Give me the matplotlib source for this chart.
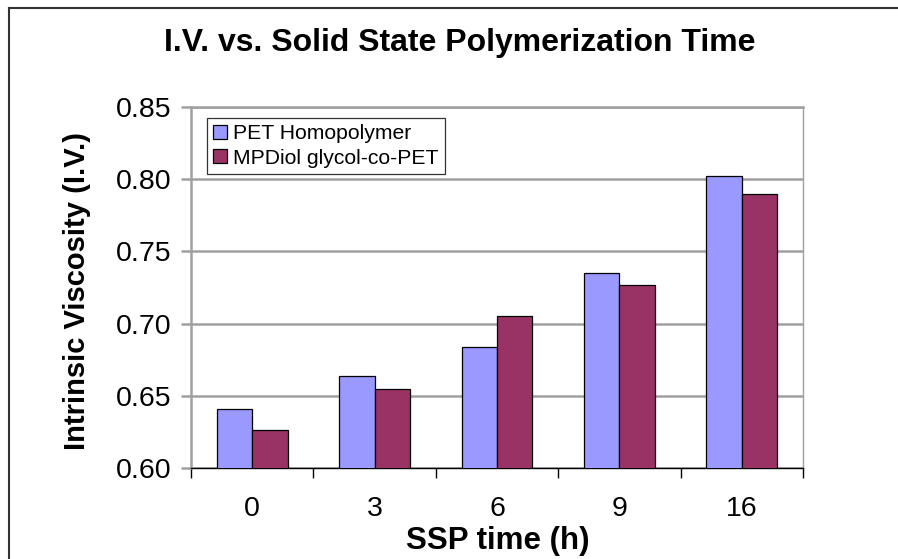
import matplotlib
matplotlib.use("Agg")
import matplotlib.pyplot as plt
from matplotlib.lines import Line2D
import numpy as np

plt.rcParams['font.family'] = ['Liberation Sans', 'DejaVu Sans']

# data
ssp_time = ['0', '3', '6', '9', '16']
pet_homo = [0.641, 0.664, 0.684, 0.735, 0.802]
mpdiol = [0.626, 0.655, 0.705, 0.727, 0.790]
series_names = ['PET Homopolymer', 'MPDiol glycol-co-PET']
y_ticks = [0.60, 0.65, 0.70, 0.75, 0.80, 0.85]

fig = plt.figure(figsize=(8.98, 5.59), dpi=100)
ax = fig.add_axes([191/898, 1 - 468/559, (803 - 191)/898, (468 - 107)/559])

x = np.arange(len(ssp_time))
w = 0.29
ax.bar(x - w/2, pet_homo, w, color='#9999FF', edgecolor='black', linewidth=0.9,
       label=series_names[0], zorder=3)
ax.bar(x + w/2, mpdiol, w, color='#993366', edgecolor='black', linewidth=0.9,
       label=series_names[1], zorder=3)

ax.set_ylim(0.60, 0.85)
ax.set_xlim(-0.5, len(ssp_time) - 0.5)
ax.set_yticks(y_ticks)
ax.set_yticklabels([f'{v:.2f}' for v in y_ticks], fontsize=20.5)
ax.yaxis.grid(True, color='#A0A0A0', linewidth=1.8, zorder=0)

# category labels centred, ticks on the category boundaries
ax.set_xticks(x)
ax.set_xticklabels(ssp_time, fontsize=20.5)
ax.tick_params(axis='x', length=0, pad=20)
ax.set_xticks(np.arange(-0.5, len(ssp_time)), minor=True)
ax.tick_params(axis='x', which='minor', length=7, width=1, color='black', direction='out')
ax.tick_params(axis='y', length=7, width=1.8, color='#A0A0A0', direction='out', pad=7)

ax.spines['left'].set_color('#A0A0A0')
ax.spines['left'].set_linewidth(1.8)
ax.spines['right'].set_color('#A0A0A0')
ax.spines['right'].set_linewidth(1)
ax.spines['top'].set_color('#A0A0A0')
ax.spines['top'].set_linewidth(1.8)
ax.spines['bottom'].set_color('black')
ax.spines['bottom'].set_linewidth(1)

ax.set_ylabel('Intrinsic Viscosity (I.V.)', fontsize=21, fontweight='bold')
ax.yaxis.set_label_coords(-(191 - 91)/612, 0.49)
ax.set_xlabel('SSP time (h)', fontsize=22.5, fontweight='bold')
ax.xaxis.set_label_coords((498 - 191)/612, -(526 - 468)/361)

leg = ax.legend(loc='upper left', bbox_to_anchor=(16/612, 1 - 11/361), fontsize=15.2,
                frameon=True, fancybox=False, borderpad=0.3, handlelength=0.65,
                handleheight=0.65, handletextpad=0.3, labelspacing=0.25, borderaxespad=0)
leg.get_frame().set_edgecolor('black')
leg.get_frame().set_linewidth(0.9)

fig.text(460/898, 1 - 43/559, 'I.V. vs. Solid State Polymerization Time',
         ha='center', va='center', fontsize=23, fontweight='bold')

# outer chart frame (left and top edges visible)
fig.add_artist(Line2D([9/898, 9/898], [0, 1 - 8/559], transform=fig.transFigure,
                      color='#333333', linewidth=1.5))
fig.add_artist(Line2D([9/898, 1], [1 - 8/559, 1 - 8/559], transform=fig.transFigure,
                      color='#333333', linewidth=1.5))

fig.savefig('out.png', dpi=100)
